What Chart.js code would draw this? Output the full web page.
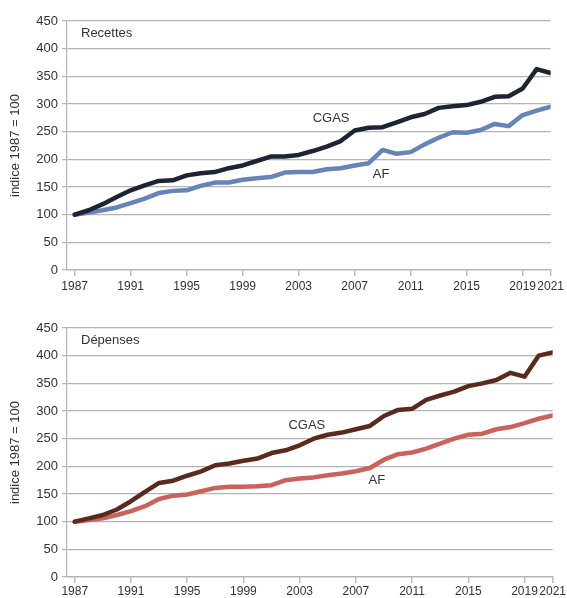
<!DOCTYPE html>
<html>
<head>
<meta charset="utf-8">
<script src="https://cdn.jsdelivr.net/npm/chart.js@4"></script>
<style>
  body { margin: 0; background: #fff; }
  .wrap { position: relative; width: 567px; height: 598px; }
  #chartTop { position: absolute; left: 0; top: 0; }
  #chartBottom { position: absolute; left: 0; top: 307px; }
</style>
</head>
<body>
<div class="wrap">
  <canvas id="chartTop" width="567" height="300"></canvas>
  <canvas id="chartBottom" width="567" height="291"></canvas>
</div>
<script>
//data
let years = [1987, 1988, 1989, 1990, 1991, 1992, 1993, 1994, 1995, 1996, 1997, 1998,
  1999, 2000, 2001, 2002, 2003, 2004, 2005, 2006, 2007, 2008, 2009, 2010, 2011,
  2012, 2013, 2014, 2015, 2016, 2017, 2018, 2019, 2020, 2021];
let yearTicks = [1987, 1991, 1995, 1999, 2003, 2007, 2011, 2015, 2019, 2021];
let valueTicks = [0, 50, 100, 150, 200, 250, 300, 350, 400, 450];

let recettesCGAS = [100, 108, 119, 132, 144, 153, 161, 162, 171, 175, 177, 184,
  189, 197, 205, 205, 208, 215, 223, 233, 252, 257, 258, 267, 276,
  282, 293, 296, 298, 304, 313, 314, 328, 363, 356];
let recettesAF = [100, 104, 108, 113, 121, 129, 139, 143, 144, 152, 158, 158,
  163, 166, 168, 176, 177, 177, 182, 184, 189, 193, 217, 210, 213,
  227, 239, 249, 248, 253, 264, 260, 280, 288, 295];
let depensesCGAS = [100, 106, 112, 122, 137, 154, 170, 174, 183, 191, 202, 205,
  210, 214, 224, 229, 238, 250, 257, 261, 267, 273, 291, 302, 304,
  320, 328, 335, 345, 350, 356, 369, 362, 400, 406];
let depensesAF = [100, 103, 106, 112, 119, 128, 141, 147, 149, 155, 161, 163,
  163, 164, 166, 175, 178, 180, 184, 187, 191, 197, 212, 222, 225,
  232, 241, 250, 257, 259, 267, 271, 278, 286, 292];

let fontFamily = '"Liberation Sans", Arial, sans-serif';
let textColor = '#333333';
let gridColor = '#b4b4b4';

function points(values) {
    return values.map(function (v, i) {
        return { x: years[i], y: v };
    });
}

// panel title + series labels, placed through the scales
let textPlugin = {
    id: 'texts',
    afterDatasetsDraw: function (chart, args, opts) {
        let ctx = chart.ctx;
        let xs = chart.scales.x;
        let ys = chart.scales.y;
        ctx.save();
        ctx.font = '13px ' + fontFamily;
        ctx.fillStyle = textColor;
        ctx.textBaseline = 'middle';
        ctx.textAlign = 'left';
        ctx.fillText(opts.title, chart.chartArea.left + 14, chart.chartArea.top + 12);
        opts.labels.forEach(function (l) {
            ctx.fillText(l.text, xs.getPixelForValue(l.year), ys.getPixelForValue(l.value));
        });
        ctx.restore();
    }
};

function makeChart(id, title, cgas, af, cgasColor, afColor, labels, labelPad) {
    let ctx = document.getElementById(id).getContext('2d');
    return new Chart(ctx, {
        type: 'line',
        data: {
            datasets: [{
                label: 'CGAS',
                data: points(cgas),
                borderColor: cgasColor,
                borderWidth: 4.5,
                pointRadius: 0,
                tension: 0,
                borderJoinStyle: 'round',
                borderCapStyle: 'round'
            }, {
                label: 'AF',
                data: points(af),
                borderColor: afColor,
                borderWidth: 4.5,
                pointRadius: 0,
                tension: 0,
                borderJoinStyle: 'round',
                borderCapStyle: 'round'
            }]
        },
        options: {
            responsive: false,
            animation: false,
            layout: { padding: { top: 21, right: 13, left: 0, bottom: 0 } },
            plugins: {
                legend: { display: false },
                tooltip: { enabled: false },
                texts: { title: title, labels: labels }
            },
            scales: {
                x: {
                    type: 'linear',
                    min: 1986.45,
                    max: 2021,
                    afterBuildTicks: function (s) {
                        s.ticks = yearTicks.map(function (v) { return { value: v }; });
                    },
                    afterFit: function (s) { s.height = s.chart.height - 21 - 249; },
                    grid: {
                        drawOnChartArea: false,
                        drawTicks: true,
                        tickLength: 6,
                        color: '#bdbdbd',
                        lineWidth: 1.5
                    },
                    border: { display: true, color: gridColor, width: 1.2 },
                    ticks: {
                        autoSkip: false,
                        maxRotation: 0,
                        padding: labelPad,
                        color: textColor,
                        font: { family: fontFamily, size: 12 },
                        callback: function (v) { return String(v); }
                    }
                },
                y: {
                    min: 0,
                    max: 450,
                    afterBuildTicks: function (s) {
                        s.ticks = valueTicks.map(function (v) { return { value: v }; });
                    },
                    afterFit: function (s) { s.width = 67; },
                    grid: {
                        color: gridColor,
                        lineWidth: 1.2,
                        tickLength: 5
                    },
                    border: { display: true, color: gridColor, width: 1.2 },
                    ticks: {
                        padding: 4,
                        color: textColor,
                        font: { family: fontFamily, size: 13 }
                    },
                    title: {
                        display: true,
                        text: 'indice 1987 = 100',
                        color: textColor,
                        padding: { top: 8, bottom: 0 },
                        font: { family: fontFamily, size: 13 }
                    }
                }
            }
        },
        plugins: [textPlugin]
    });
}

makeChart('chartTop', 'Recettes', recettesCGAS, recettesAF, '#1f2434', '#6684b6',
    [{ text: 'CGAS', year: 2004.0, value: 274 }, { text: 'AF', year: 2008.3, value: 173 }], 3);
makeChart('chartBottom', 'Dépenses', depensesCGAS, depensesAF, '#5b2a1f', '#c8625a',
    [{ text: 'CGAS', year: 2002.2, value: 274 }, { text: 'AF', year: 2007.9, value: 175 }], 1);
</script>
</body>
</html>
